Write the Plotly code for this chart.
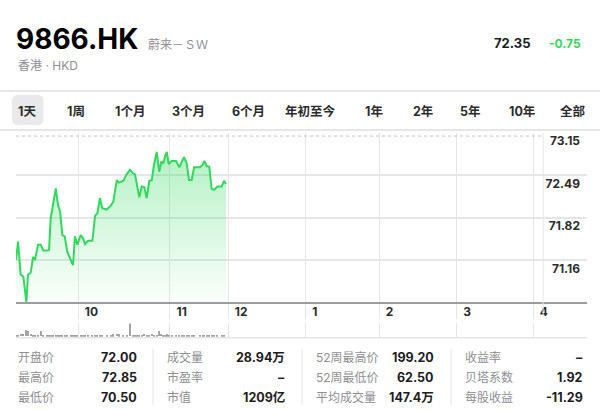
import plotly.graph_objects as go

# --- data ---
symbol = "9866.HK"
name = "蔚来－ＳＷ"
market = "香港 · HKD"
last_price = "72.35"
change = "-0.75"
prev_close = 73.10

ranges = ["1天", "1周", "1个月", "3个月", "6个月", "年初至今", "1年", "2年", "5年", "10年", "全部"]

# session index (x) and price for the morning session
t = [0, 1.3, 2.9, 4.6, 6.5, 7.5, 9.2, 10.7, 11.9, 13.8, 15.5, 17.1, 19.6, 20.7, 21.7,
     23.2, 24.9, 26.3, 27.6, 29.0, 30.5, 32.1, 34.3, 35.7, 36.9, 38.4, 40.5, 42.0, 43.2,
     45.1, 47.8, 49.5, 50.9, 52.6, 54.0, 56.8, 59.3, 60.9, 63.1, 64.5, 67.2, 69.3, 71.4,
     73.1, 74.5, 76.0, 77.2, 78.7, 80.3, 81.8, 83.5, 85.0, 86.4, 88.1, 89.7, 91.0, 92.2,
     93.3, 94.4, 95.6, 97.5, 100.2, 102.3, 103.8, 105.2, 106.9, 108.3, 110.0, 111.5,
     115.2, 116.9, 117.9, 119.4, 121.0, 122.5, 124.2, 126.1, 128.8, 130.2, 131.5]
price = [71.16, 71.45, 70.93, 70.90, 70.50, 70.93, 70.96, 71.21, 71.16, 71.40, 71.40, 71.31,
         71.31, 71.32, 71.81, 72.02, 72.28, 72.02, 71.92, 71.55, 71.53, 71.29, 71.16, 71.08,
         71.53, 71.40, 71.55, 71.50, 71.41, 71.46, 71.46, 71.85, 71.89, 72.13, 71.97, 71.95,
         72.01, 72.07, 72.41, 72.37, 72.40, 72.50, 72.57, 72.52, 72.50, 72.26, 72.14, 72.31,
         72.30, 72.13, 72.40, 72.41, 72.65, 72.85, 72.54, 72.70, 72.67, 72.78, 72.85, 72.66,
         72.71, 72.71, 72.61, 72.70, 72.77, 72.67, 72.41, 72.41, 72.61, 72.61, 72.65, 72.71,
         72.63, 72.62, 72.27, 72.26, 72.31, 72.31, 72.40, 72.35]
volume = [4000, 3000, 5000, 6000, 14000, 13000, 5000, 3000, 4000, 2500, 11000, 3000, 4000,
          3500, 3000, 4000, 3000, 2500, 3000, 2000, 2500, 1500, 2000, 3000, 1500, 2000, 1500,
          2500, 1500, 3000, 2000, 1500, 3000, 2000, 2500, 3000, 4000, 4500, 5000, 4500, 4000,
          3500, 30000, 2000, 3000, 2500, 4000, 3000, 6000, 3000, 4000, 5000, 2500, 4000,
          13000, 5000, 4000, 3000, 4500, 3500, 2500, 3000, 1500, 3000, 2000, 3500, 4000,
          3000, 1500, 2500, 3000, 4000, 2000, 1500, 3000, 2000, 2500, 2000, 1500]

x_tick_vals = [39.0, 96.4, 132.9, 181.4, 227.5, 276.0, 323.9]
x_tick_text = ["10", "11", "12", "1", "2", "3", "4"]
session_end = 330
y_tick_vals = [71.16, 71.82, 72.49, 73.15]

stat_labels = [["开盘价", "最高价", "最低价"],
               ["成交量", "市盈率", "市值"],
               ["52周最高价", "52周最低价", "平均成交量"],
               ["收益率", "贝塔系数", "每股收益"]]
stat_values = [["72.00", "72.85", "70.50"],
               ["28.94万", "–", "1209亿"],
               ["199.20", "62.50", "147.4万"],
               ["–", "1.92", "-11.29"]]

FONT = "Inter, 'Noto Sans CJK SC', sans-serif"
GREEN = "#30d95c"
GRAY = "#8e8e93"
DARK = "#1c1c1e"
GRID = "#e6e6e8"
W, H = 600, 410


def px(x):
    return x / W


def py(y):
    return 1 - y / H


fig = go.Figure()

fig.add_trace(go.Scatter(
    x=t, y=price, mode="lines",
    line=dict(color=GREEN, width=2),
    fill="tozeroy",
    fillgradient=dict(type="vertical", start=70.5, stop=72.85,
                      colorscale=[[0, "rgba(48,217,92,0.02)"], [1, "rgba(48,217,92,0.36)"]]),
    hoverinfo="skip",
))

fig.add_trace(go.Bar(
    x=t, y=volume, yaxis="y2", width=0.6,
    marker=dict(color="#a4a4a8", line=dict(width=0)),
    hoverinfo="skip",
))

fig.update_layout(
    width=W, height=H,
    margin=dict(l=0, r=0, t=0, b=0),
    paper_bgcolor="white", plot_bgcolor="white",
    showlegend=False, hovermode=False, bargap=0,
    font=dict(family=FONT, color=DARK),
    xaxis=dict(
        domain=[px(16), px(587)], range=[0, 357.5],
        tickvals=x_tick_vals, ticktext=x_tick_text,
        showgrid=True, gridcolor=GRID, gridwidth=1,
        ticks="outside", ticklen=15, tickcolor=GRID, tickwidth=1,
        ticklabelposition="outside right", ticklabelshift=5, ticklabelstandoff=-3,
        tickfont=dict(size=12, color="#2c2c2e", weight="bold"),
        showline=True, linecolor="#9c9ca0", linewidth=2,
        zeroline=False, fixedrange=True,
    ),
    yaxis=dict(
        domain=[py(302.2), py(132.8)], range=[70.50, 73.15],
        side="right", tickvals=y_tick_vals, ticktext=[f"{v:.2f}" for v in y_tick_vals],
        ticklabelposition="inside bottom", ticklabelstandoff=4,
        tickfont=dict(size=12, color="#2c2c2e", weight="bold"),
        showgrid=True, gridcolor=GRID, gridwidth=2,
        zeroline=False, showline=False, ticks="", fixedrange=True,
    ),
    yaxis2=dict(
        domain=[py(336.7), py(323.4)], range=[0, 30000], anchor="x",
        visible=False, fixedrange=True,
    ),
)

shapes = []
# separators round the range tabs
for yy in [91, 130]:
    shapes.append(dict(type="line", xref="paper", yref="paper", x0=0, x1=1,
                       y0=py(yy), y1=py(yy), line=dict(color="#e5e5ea", width=2)))


def rounded_box(x0, y0, x1, y1, r):
    a, b, c, d = px(x0), py(y0), px(x1), py(y1)
    rx, ry = r / W, r / H
    return (f"M{a + rx},{b} L{c - rx},{b} Q{c},{b} {c},{b - ry} "
            f"L{c},{d + ry} Q{c},{d} {c - rx},{d} L{a + rx},{d} "
            f"Q{a},{d} {a},{d + ry} L{a},{b - ry} Q{a},{b} {a + rx},{b} Z")


shapes.append(dict(type="path", xref="paper", yref="paper",
                   path=rounded_box(12, 95, 43.5, 125, 6),
                   fillcolor="#e9e9eb", line=dict(width=0), layer="below"))
# previous close (dotted)
shapes.append(dict(type="line", xref="x", yref="y", x0=0, x1=session_end,
                   y0=prev_close, y1=prev_close, line=dict(color="#c2c2c6", width=1, dash="dot")))
# end of session
shapes.append(dict(type="line", xref="x", yref="paper", x0=session_end, x1=session_end,
                   y0=py(317), y1=py(132.8), line=dict(color=GRID, width=1)))
# line under the volume strip
shapes.append(dict(type="line", xref="paper", yref="paper", x0=px(16), x1=px(587),
                   y0=py(337.7), y1=py(337.7), line=dict(color="#e5e5ea", width=1.5)))
# stats column separators
for sx in [153, 302, 451]:
    shapes.append(dict(type="line", xref="paper", yref="paper", x0=px(sx), x1=px(sx),
                       y0=py(349), y1=py(405), line=dict(color="#e5e5ea", width=1)))
fig.update_layout(shapes=shapes)

ann = []


def text(x, y, s, size, color, anchor="left", weight="normal"):
    ann.append(dict(x=px(x), y=py(y), xref="paper", yref="paper", text=s, showarrow=False,
                    xanchor=anchor, yanchor="middle",
                    font=dict(size=size, color=color, family=FONT, weight=weight)))


text(14, 39, symbol, 28, "#000000", weight="bold")
text(146, 44.5, name, 12, GRAY)
text(16, 65.5, market, 12, GRAY)
text(533, 43.5, last_price, 13, DARK, anchor="right", weight="bold")
text(547, 43.5, change, 12, GREEN, weight="bold")

tab_x = [27.5, 76, 129.5, 188.5, 248, 310.5, 374, 422.5, 470.5, 521.5, 573]
for tx, lab in zip(tab_x, ranges):
    text(tx, 111, lab, 12.5, "#2c2c2e", anchor="center", weight="bold")

label_x = [16, 165, 314, 463]
value_x = [138.5, 287, 435.5, 585]
row_y = [357, 377, 397]
for c in range(4):
    for r in range(3):
        text(label_x[c], row_y[r], stat_labels[c][r], 12, GRAY)
        text(value_x[c], row_y[r], stat_values[c][r], 12.5, DARK, anchor="right", weight="bold")

fig.update_layout(annotations=ann)

# the page's default body margin would push the 600x410 figure off the window
fig.write_html("out.html", config={"displayModeBar": False},
               post_script="document.body.style.margin='0';")
